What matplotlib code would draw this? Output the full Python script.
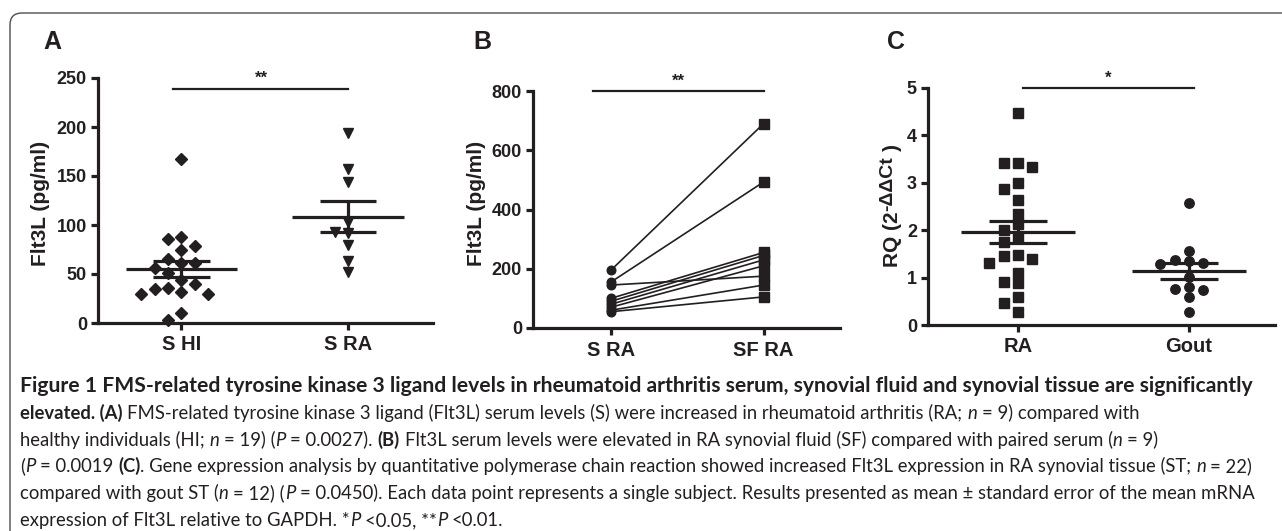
import matplotlib
matplotlib.use("Agg")
import matplotlib.pyplot as plt
import numpy as np
from matplotlib.patches import FancyBboxPatch
from matplotlib.font_manager import FontProperties, fontManager
from matplotlib.transforms import IdentityTransform

# values
a_groups = ["S HI", "S RA"]
a_shi = [167, 88, 86, 79, 74, 65, 61, 61, 56, 51, 44, 40, 36, 35, 32, 30, 30, 10, 3]
a_sra = [194, 157, 144, 103, 93, 92, 80, 63, 52]

b_groups = ["S RA", "SF RA"]
b_serum = [195, 155, 145, 100, 90, 80, 70, 60, 55]
b_fluid = [690, 493, 175, 255, 245, 230, 210, 145, 105]

c_groups = ["RA", "Gout"]
c_ra = [4.48, 3.42, 3.42, 3.34, 2.99, 2.86, 2.64, 2.34, 2.13, 2.0, 1.86,
        1.75, 1.48, 1.46, 1.39, 1.30, 1.10, 0.91, 0.88, 0.60, 0.46, 0.28]
c_gout = [2.57, 1.56, 1.37, 1.34, 1.30, 1.28, 1.02, 0.80, 0.75, 0.74, 0.60, 0.28]

W, H = 1282, 531
INK = "#231f20"
plt.rcParams["font.family"] = ["Liberation Sans", "DejaVu Sans"]

fig = plt.figure(figsize=(W / 100, H / 100), dpi=100)
renderer = fig.canvas.get_renderer()


def fx(x):
    return x / W


def fy(y):
    return 1 - y / H


def axes_px(left, top, right, bottom):
    return fig.add_axes([left / W, 1 - bottom / H, (right - left) / W, (bottom - top) / H])


def text_w(s, fp):
    w1, _, _ = renderer.get_text_width_height_descent("|" + s + "|", fp, ismath=False)
    w0, _, _ = renderer.get_text_width_height_descent("||", fp, ismath=False)
    return w1 - w0


def style_axes(ax, ylim, yticks, xlim, labels):
    for s in ["top", "right"]:
        ax.spines[s].set_visible(False)
    for s in ["left", "bottom"]:
        ax.spines[s].set_linewidth(2.3)
        ax.spines[s].set_color(INK)
    ax.set_ylim(ylim)
    ax.set_yticks(yticks)
    ax.set_xlim(xlim)
    ax.set_xticks([0, 1])
    ax.set_xticklabels(labels)
    ax.tick_params(axis="both", direction="out", width=2.3, length=5, color=INK)
    ax.tick_params(axis="y", labelsize=13, pad=3)
    ax.tick_params(axis="x", labelsize=14.5, pad=4)
    for lab in ax.get_xticklabels() + ax.get_yticklabels():
        lab.set_fontweight("bold")
        lab.set_color(INK)
    ax.patch.set_alpha(0)


def swarm(values, step, gap):
    # greedy column layout, like a scatter dot plot
    order = np.argsort(values)[::-1]
    placed = []
    offs = np.zeros(len(values))
    for i in order:
        v = values[i]
        for k in [0, -1, 1, -2, 2, -3, 3, -4, 4]:
            if all(abs(v - pv) >= gap for pk, pv in placed if pk == k):
                break
        placed.append((k, v))
        offs[i] = k * step
    return offs


def mean_sem(ax, x, vals):
    vals = np.asarray(vals, float)
    m = vals.mean()
    se = vals.std(ddof=1) / np.sqrt(len(vals))
    kw = dict(color=INK, lw=2.3, solid_capstyle="butt", zorder=4)
    ax.plot([x - 0.335, x + 0.335], [m, m], **kw)
    ax.plot([x - 0.17, x + 0.17], [m + se, m + se], **kw)
    ax.plot([x - 0.17, x + 0.17], [m - se, m - se], **kw)
    ax.plot([x, x], [m - se, m + se], **kw)


def sig(ax, x0, x1, y, label, xt):
    ax.plot([x0, x1], [y, y], color=INK, lw=1.6, clip_on=False)
    ax.annotate(label, (xt, y), xytext=(0, 4), textcoords="offset points",
                ha="center", va="baseline", fontsize=12, fontweight="bold",
                color=INK, annotation_clip=False)


# ---- panel A
axA = axes_px(98, 78, 433, 323)
style_axes(axA, (0, 250), range(0, 251, 50), (-0.5, 1.51), a_groups)
axA.plot(swarm(a_shi, 0.08, 12), a_shi, "D", ms=6.6, color=INK, clip_on=False, zorder=3)
axA.plot(1 + swarm(a_sra, 0.08, 11), a_sra, "v", ms=7.5, color=INK, clip_on=False, zorder=3)
mean_sem(axA, 0, a_shi)
mean_sem(axA, 1, a_sra)
sig(axA, -0.05, 1.0, 239, "**", 0.48)

# ---- panel B
axB = axes_px(533, 91, 840, 328)
style_axes(axB, (0, 800), range(0, 801, 200), (-0.51, 1.5), b_groups)
for s, f in zip(b_serum, b_fluid):
    axB.plot([0, 1], [s, f], color=INK, lw=1.2, zorder=2)
axB.plot(np.zeros(len(b_serum)), b_serum, "o", ms=6.2, color=INK, clip_on=False, zorder=3)
axB.plot(np.ones(len(b_fluid)), b_fluid, "s", ms=6.8, color=INK, clip_on=False, zorder=3)
sig(axB, -0.12, 1.0, 800, "**", 0.44)

# ---- panel C
axC = axes_px(928, 88, 1275, 325)
style_axes(axC, (0, 5), range(0, 6), (-0.526, 1.503), c_groups)
axC.plot(swarm(c_ra, 0.084, 0.2), c_ra, "s", ms=7.2, color=INK, clip_on=False, zorder=3)
axC.plot(1 + swarm(c_gout, 0.084, 0.2), c_gout, "o", ms=6.8, color=INK, clip_on=False, zorder=3)
mean_sem(axC, 0, c_ra)
mean_sem(axC, 1, c_gout)
sig(axC, 0.03, 1.03, 5.0, "*", 0.53)

# y labels
fig.text(fx(40), fy(203), "Flt3L (pg/ml)", rotation=90, ha="center", va="center",
         fontsize=15, fontweight="bold", color=INK)
fig.text(fx(476), fy(203), "Flt3L (pg/ml)", rotation=90, ha="center", va="center",
         fontsize=15, fontweight="bold", color=INK)

fp_main = FontProperties(family="Liberation Sans", weight="bold", size=15)
fp_sup = FontProperties(family="Liberation Sans", weight="bold", size=14)
xb, yb = 898, 267
rot = dict(rotation=90, rotation_mode="anchor", ha="left", va="baseline", color=INK)
fig.text(fx(xb), fy(yb), "RQ (2", fontproperties=fp_main, **rot)
yb -= text_w("RQ (2", fp_main)
fig.text(fx(xb - 6), fy(yb), "-\u0394\u0394Ct", fontproperties=fp_sup, **rot)
yb -= text_w("-\u0394\u0394Ct", fp_sup) + text_w(" ", fp_main)
fig.text(fx(xb), fy(yb), ")", fontproperties=fp_main, **rot)

# panel letters
for letter, x in [("A", 43), ("B", 473), ("C", 887)]:
    fig.text(fx(x), fy(49), letter, ha="left", va="baseline", fontsize=18,
             fontweight="bold", color=INK)

# caption (narrow face if one is installed)
names = {f.name for f in fontManager.ttflist}
CAP_FONT = "Liberation Sans Narrow" if "Liberation Sans Narrow" in names else "Lato"
line1 = ("Figure 1 FMS-related tyrosine kinase 3 ligand levels in rheumatoid arthritis serum, "
         "synovial fluid and synovial tissue are significantly")

caption = [
    [(line1, "b")],
    [("elevated. (A)", "b"),
     (" FMS-related tyrosine kinase 3 ligand (Flt3L) serum levels (S) were increased in rheumatoid arthritis (RA; ", ""),
     ("n", "i"), (" = 9) compared with", "")],
    [("healthy individuals (HI; ", ""), ("n", "i"), (" = 19) (", ""), ("P", "i"), (" = 0.0027). ", ""),
     ("(B)", "b"),
     (" Flt3L serum levels were elevated in RA synovial fluid (SF) compared with paired serum (", ""),
     ("n", "i"), (" = 9)", "")],
    [("(", ""), ("P", "i"), (" = 0.0019 ", ""), ("(C)", "b"),
     (". Gene expression analysis by quantitative polymerase chain reaction showed increased Flt3L "
      "expression in RA synovial tissue (ST; ", ""), ("n", "i"), (" = 22)", "")],
    [("compared with gout ST (", ""), ("n", "i"), (" = 12) (", ""), ("P", "i"),
     (" = 0.0450). Each data point represents a single subject. Results presented as mean \u00b1 "
      "standard error of the mean mRNA", "")],
    [("expression of Flt3L relative to GAPDH. *", ""), ("P", "i"), (" <0.05, **", ""), ("P", "i"),
     (" <0.01.", "")],
]


def seg_fp(st, size):
    return FontProperties(family=CAP_FONT, size=size,
                          weight="bold" if "b" in st else "normal",
                          style="italic" if "i" in st else "normal")


def line_width(segs, size):
    return sum(text_w(t, seg_fp(st, size)) for t, st in segs)


# fit the caption font to the line widths of the reference
size_bold = 10 * 1236 / line_width(caption[0], 10)
size_body = 10 * 1237 / line_width(caption[3], 10)

for n, segs in enumerate(caption):
    size = size_bold if n == 0 else size_body
    y = 392 + n * 26.8
    x = 20
    for txt, st in segs:
        fp = seg_fp(st, size)
        sp = text_w(" ", fp)
        core = txt.strip(" ")
        x += (len(txt) - len(txt.lstrip(" "))) * sp
        if core:
            fig.text(fx(x), fy(y), core, fontproperties=fp, ha="left", va="baseline", color=INK)
            x += text_w(core, fp)
        x += (len(txt) - len(txt.rstrip(" "))) * sp

# rounded frame around the figure
frame = FancyBboxPatch((10, -40), 1400, H - 13 + 40, boxstyle="round,pad=0,rounding_size=12",
                       transform=IdentityTransform(), fill=False, edgecolor="#4d4d4d", lw=1.0)
fig.add_artist(frame)

fig.savefig("out.png", dpi=100)
plt.close(fig)
